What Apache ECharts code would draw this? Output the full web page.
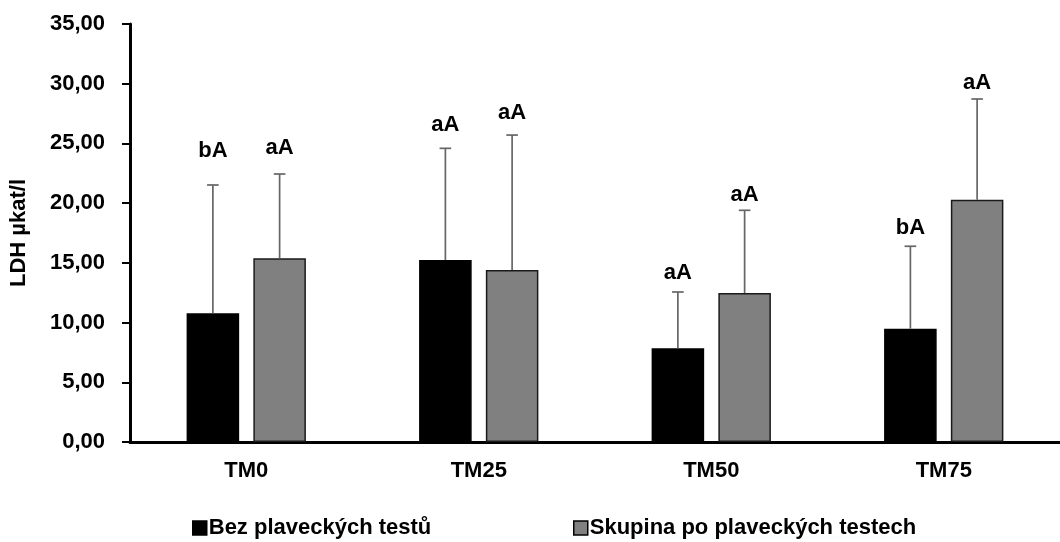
<!DOCTYPE html>
<html>
<head>
<meta charset="utf-8">
<script src="https://cdn.jsdelivr.net/npm/echarts@6/dist/echarts.min.js"></script>
<style>
html,body{margin:0;padding:0;background:#fff;}
#chart{width:1060px;height:542px;}
</style>
</head>
<body>
<div id="chart"></div>
<script>
var categories = ['TM0', 'TM25', 'TM50', 'TM75'];
var seriesNames = ['Bez plaveckých testů', 'Skupina po plaveckých testech'];
var meanBez = [10.78, 15.24, 7.85, 9.49];
var errBez = [10.74, 9.35, 4.71, 6.9];
var meanSkup = [15.38, 14.4, 12.48, 20.29];
var errSkup = [7.06, 11.3, 6.92, 8.43];
var letterBez = ['bA', 'aA', 'aA', 'bA'];
var letterSkup = ['aA', 'aA', 'aA', 'aA'];
var letterLevelBez = [24.37, 26.54, 14.13, 17.96];
var letterLevelSkup = [24.62, 27.59, 20.68, 30.03];
var yTicks = [0, 5, 10, 15, 20, 25, 30, 35];

var FONT = '"Liberation Sans", Arial, sans-serif';
var BAR_W = 0.226;
var BAR_GAP = 0.27;
var SHIFT = BAR_W * (1 + BAR_GAP) / 2;

function errorSeries(name, means, errs, letters, levels, sign) {
  var data = categories.map(function (c, i) {
    return [i, means[i], means[i] + errs[i], levels[i]];
  });
  return {
    type: 'custom',
    name: name + ' err',
    z: 5,
    silent: true,
    data: data,
    encode: { x: 0, y: [1, 2] },
    renderItem: function (params, api) {
      var idx = api.value(0);
      var band = api.size([1, 0])[0];
      var base = api.coord([idx, api.value(1)]);
      var top = api.coord([idx, api.value(2)]);
      var lab = api.coord([idx, api.value(3)]);
      var x = base[0] + sign * band * SHIFT;
      var cap = 5.8;
      var st = { stroke: '#666', lineWidth: 1.7 };
      return {
        type: 'group',
        children: [
          { type: 'line', shape: { x1: x, y1: base[1], x2: x, y2: top[1] }, style: st },
          { type: 'line', shape: { x1: x - cap, y1: top[1], x2: x + cap, y2: top[1] }, style: st },
          { type: 'text', style: { x: x, y: lab[1], text: letters[idx], fill: '#000',
              font: 'bold 22px ' + FONT, align: 'center', verticalAlign: 'middle' } }
        ]
      };
    }
  };
}

function legendFor(name, left) {
  return {
    data: [name], left: left, top: 517, padding: 0, icon: 'rect',
    itemWidth: 14, itemHeight: 14,
    itemStyle: { borderColor: '#000', borderWidth: 1.5 },
    textStyle: { fontFamily: FONT, fontWeight: 'bold', fontSize: 22, color: '#000', padding: [0, 0, 0, -3] }
  };
}

var chart = echarts.init(document.getElementById('chart'));
chart.setOption({
  animation: false,
  backgroundColor: '#fff',
  grid: { left: 122, right: -10, top: 24, bottom: 100, containLabel: false },
  legend: [legendFor(seriesNames[0], 192), legendFor(seriesNames[1], 573)],
  xAxis: {
    type: 'category',
    data: categories,
    axisLine: { lineStyle: { color: '#000', width: 3 } },
    axisTick: { show: false },
    axisLabel: { margin: 18, color: '#000', fontFamily: FONT, fontWeight: 'bold', fontSize: 22 }
  },
  yAxis: {
    type: 'value',
    min: yTicks[0],
    max: yTicks[yTicks.length - 1],
    interval: yTicks[1] - yTicks[0],
    name: 'LDH µkat/l',
    nameLocation: 'middle',
    nameGap: 100,
    nameTextStyle: { color: '#000', fontFamily: FONT, fontWeight: 'bold', fontSize: 22 },
    axisLine: { show: true, lineStyle: { color: '#000', width: 3 } },
    axisTick: { show: true, length: 8, lineStyle: { color: '#000', width: 2 } },
    splitLine: { show: false },
    axisLabel: {
      margin: 25, color: '#000', fontFamily: FONT, fontWeight: 'bold', fontSize: 22,
      formatter: function (v) { return v.toFixed(2).replace('.', ','); }
    }
  },
  series: [
    { type: 'bar', name: seriesNames[0], data: meanBez, barWidth: (BAR_W * 100) + '%', barGap: (BAR_GAP * 100) + '%',
      itemStyle: { color: '#000', borderColor: '#000', borderWidth: 1.5 } },
    { type: 'bar', name: seriesNames[1], data: meanSkup, barWidth: (BAR_W * 100) + '%',
      itemStyle: { color: '#808080', borderColor: '#1a1a1a', borderWidth: 1.5 } },
    errorSeries(seriesNames[0], meanBez, errBez, letterBez, letterLevelBez, -1),
    errorSeries(seriesNames[1], meanSkup, errSkup, letterSkup, letterLevelSkup, 1)
  ]
});
</script>
</body>
</html>
